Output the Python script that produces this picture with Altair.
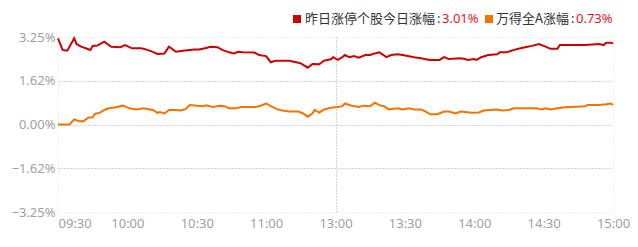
import altair as alt
import pandas as pd

# ---- data (minute index since 09:30, lunch break collapsed) ----
red_min = [0, 2, 4, 7, 8, 10, 12, 14, 15, 17, 20, 23, 27, 29, 32, 36, 38, 41, 43, 46, 48, 51, 54, 59,
           61, 64, 66, 69, 71, 74, 76, 78, 80, 85, 87, 90, 91, 92, 94, 97, 100, 103, 105, 108, 110,
           113, 115, 118, 119, 121, 123, 124, 126, 128, 130, 133, 135, 137, 139, 142, 144, 147, 149,
           154, 157, 159, 161, 165, 167, 169, 174, 176, 177, 180, 181, 183, 186, 190, 191, 194, 196,
           198, 200, 203, 205, 208, 210, 213, 216, 217, 221, 225, 228, 231, 234, 236, 237, 239, 240]
red_val = [3.20, 2.77, 2.74, 3.20, 2.99, 2.89, 2.83, 2.77, 2.92, 2.93, 3.08, 2.89, 2.87, 2.95, 2.83,
           2.83, 2.79, 2.70, 2.62, 2.64, 2.89, 2.70, 2.74, 2.79, 2.79, 2.84, 2.89, 2.87, 2.77, 2.68,
           2.64, 2.70, 2.68, 2.67, 2.58, 2.54, 2.43, 2.31, 2.37, 2.37, 2.37, 2.31, 2.27, 2.11, 2.25,
           2.24, 2.37, 2.42, 2.50, 2.40, 2.50, 2.58, 2.50, 2.54, 2.48, 2.58, 2.58, 2.64, 2.68, 2.50,
           2.58, 2.61, 2.58, 2.50, 2.46, 2.42, 2.40, 2.40, 2.50, 2.43, 2.46, 2.43, 2.40, 2.43, 2.40,
           2.50, 2.58, 2.61, 2.68, 2.68, 2.74, 2.79, 2.83, 2.89, 2.92, 2.99, 2.92, 2.81, 2.81, 2.95,
           2.95, 2.95, 2.95, 2.97, 2.99, 2.95, 3.04, 3.04, 3.01]

orange_min = [0, 5, 7, 9, 11, 13, 15, 16, 18, 20, 22, 25, 28, 31, 34, 37, 41, 43, 44, 46, 48, 51,
              53, 55, 57, 60, 63, 64, 67, 70, 72, 74, 77, 79, 85, 87, 90, 92, 95, 97, 100, 104, 106,
              108, 110, 111, 113, 115, 118, 121, 123, 124, 127, 130, 132, 135, 137, 139, 141, 143,
              147, 149, 152, 154, 157, 159, 161, 164, 167, 169, 172, 174, 179, 182, 184, 187, 190,
              192, 195, 197, 200, 207, 209, 211, 213, 216, 219, 222, 228, 229, 234, 237, 239, 240]
orange_val = [0.00, 0.00, 0.19, 0.12, 0.12, 0.25, 0.27, 0.40, 0.43, 0.54, 0.60, 0.64, 0.70, 0.60,
              0.56, 0.60, 0.54, 0.43, 0.46, 0.41, 0.54, 0.54, 0.52, 0.56, 0.72, 0.70, 0.68, 0.71,
              0.65, 0.70, 0.68, 0.60, 0.60, 0.65, 0.65, 0.68, 0.78, 0.68, 0.56, 0.52, 0.48, 0.48,
              0.41, 0.29, 0.41, 0.54, 0.44, 0.56, 0.62, 0.65, 0.68, 0.78, 0.70, 0.65, 0.70, 0.68,
              0.81, 0.72, 0.68, 0.56, 0.60, 0.56, 0.60, 0.56, 0.56, 0.48, 0.38, 0.38, 0.48, 0.48,
              0.41, 0.48, 0.44, 0.45, 0.52, 0.54, 0.56, 0.52, 0.54, 0.60, 0.60, 0.60, 0.56, 0.60,
              0.56, 0.60, 0.64, 0.65, 0.68, 0.72, 0.72, 0.75, 0.78, 0.73]

series_names = ["昨日涨停个股今日涨幅", "万得全A涨幅"]
series_colors = ["#cc0000", "#f57200"]
legend_values = ["3.01%", "0.73%"]

x_tick_values = [0, 30, 60, 90, 120, 150, 180, 210, 240]
x_tick_labels = ["09:30", "10:00", "10:30", "11:00", "13:00", "13:30", "14:00", "14:30", "15:00"]
y_tick_values = [-3.25, -1.62, 0.0, 1.62, 3.25]

# ---- build table ----
df = pd.concat([
    pd.DataFrame({"minute": red_min, "pct": red_val, "series": series_names[0]}),
    pd.DataFrame({"minute": orange_min, "pct": orange_val, "series": series_names[1]}),
], ignore_index=True)

label_map = "{" + ",".join(f"'{v}':'{l}'" for v, l in zip(x_tick_values, x_tick_labels)) + "}"

x_axis = alt.Axis(
    values=x_tick_values,
    labelExpr=f"{label_map}[toString(datum.value)]",
    labelAlign={"condition": {"test": "datum.value == 0", "value": "left"}, "value": "center"},
    labelFont="Noto Sans", labelFontSize=13, labelColor="#a0a0a0", labelPadding=5,
    ticks=False, domain=False, title=None,
    grid=True,
    gridColor={"condition": {"test": "datum.value == 120", "value": "#a8a8a8"}, "value": "#dddddd"},
    gridOpacity={"condition": {"test": "datum.value == 0 || datum.value == 120 || datum.value == 240",
                               "value": 1}, "value": 0},
    gridDash=[1, 2],
)

y_axis = alt.Axis(
    values=y_tick_values,
    labelExpr="format(datum.value, '.2f') + '%'",
    labelFont="Noto Sans", labelFontSize=13, labelColor="#a0a0a0", labelPadding=3,
    ticks=False, domain=False, title=None,
    grid=True,
    gridColor={"condition": {"test": "abs(datum.value) > 3", "value": "#dddddd"}, "value": "#a8a8a8"},
    gridDash=[1, 2],
)

lines = alt.Chart(df).mark_line(strokeWidth=2, clip=False).encode(
    x=alt.X("minute:Q", scale=alt.Scale(domain=[0, 240], nice=False, zero=False), axis=x_axis),
    y=alt.Y("pct:Q", scale=alt.Scale(domain=[-3.25, 3.25], nice=False), axis=y_axis),
    color=alt.Color("series:N", scale=alt.Scale(domain=series_names, range=series_colors), legend=None),
)

legend_df = pd.DataFrame({"name": series_names, "value": legend_values, "color": series_colors})

def legend_item(i, sq_x, label_x, value_x):
    d = legend_df.iloc[[i]]
    base = alt.Chart(d)
    sq = base.mark_square(size=64, filled=True, opacity=1, color=series_colors[i]).encode(
        x=alt.value(sq_x), y=alt.value(-18))
    lab = base.mark_text(align="left", baseline="middle", font="Noto Sans CJK SC",
                         fontSize=13, color="#333333").encode(
        x=alt.value(label_x), y=alt.value(-18), text=alt.Text("name:N"))
    colon = base.mark_text(align="left", baseline="middle", font="Noto Sans",
                           fontSize=13, color="#333333").encode(
        x=alt.value(value_x - 5), y=alt.value(-18), text=alt.value(":"))
    val = base.mark_text(align="left", baseline="middle", font="Noto Sans",
                         fontSize=13, color="#e8141e").encode(
        x=alt.value(value_x), y=alt.value(-18), text=alt.Text("value:N"))
    return sq + lab + colon + val

leg1 = legend_item(0, 239, 247, 384)
leg2 = legend_item(1, 431, 438, 518)

chart = alt.layer(lines, leg1, leg2).properties(
    width=555, height=175,
    padding={"left": 58, "top": 37, "right": 25, "bottom": 35},
    autosize="none",
    background="white",
).configure_view(stroke=None)

chart.save("out.html", embed_options={"renderer": "svg", "actions": False})
